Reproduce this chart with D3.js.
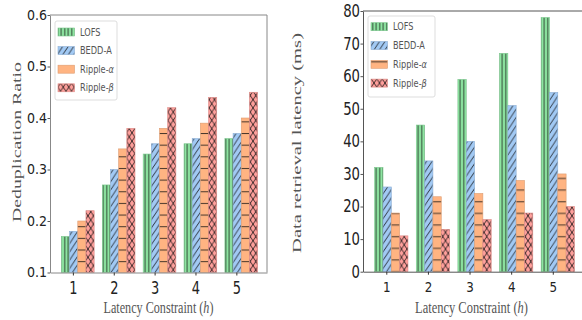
<!DOCTYPE html>
<html>
<head>
<meta charset="utf-8">
<script src="https://cdn.jsdelivr.net/npm/d3@7"></script>
<style>
  body { margin: 0; background: #fff; }
  svg { display: block; }
  .tick text { fill: #222; font-family: "DejaVu Sans", sans-serif; }
  .axis-label { font-family: "Liberation Serif", "Times New Roman", serif; fill: #555; }
  .legend text { font-family: "DejaVu Sans", sans-serif; fill: #555; font-size: 10px; }
</style>
</head>
<body>
<div id="chart"></div>
<script>
// categories
const groups = [1, 2, 3, 4, 5];
const seriesNames = ["LOFS", "BEDD-A", "Ripple-α", "Ripple-β"];
const seriesColours = ["#8de5a1", "#a1c9f4", "#ffb482", "#ff9f9b"];
const seriesHatch = ["vert", "diag", "horiz", "cross"];

// left panel: deduplication ratio
const dedupLOFS = [0.17, 0.27, 0.33, 0.35, 0.36];
const dedupBEDD = [0.18, 0.30, 0.35, 0.36, 0.37];
const dedupRippleA = [0.20, 0.34, 0.38, 0.39, 0.40];
const dedupRippleB = [0.22, 0.38, 0.42, 0.44, 0.45];
const dedupTicks = [0.1, 0.2, 0.3, 0.4, 0.5, 0.6];

// right panel: data retrieval latency (ms)
const latLOFS = [32, 45, 59, 67, 78];
const latBEDD = [26, 34, 40, 51, 55];
const latRippleA = [18, 23, 24, 28, 30];
const latRippleB = [11, 13, 16, 18, 20];
const latTicks = [0, 10, 20, 30, 40, 50, 60, 70, 80];

const svg = d3.select("#chart").append("svg")
  .attr("width", 582).attr("height", 320);
const defs = svg.append("defs");

// hatch patterns, similar to matplotlib's | / - x
function addHatch(id, kind, colour, offY) {
  let w, h, d;
  if (kind === "vert") { w = 3.5; h = 10; d = "M1.7,0V10"; }
  if (kind === "horiz") { w = 10; h = 11.65; d = `M0,${offY}H10`; }
  if (kind === "diag" || kind === "cross") {
    w = 5.5; h = 8.3;
    d = [0, 1, 2].map(k => `M${(k - 1) * w},${h}L${k * w},0`).join("");
    if (kind === "cross") {
      d += [-1, 0, 1].map(k => `M${k * w},0L${(k + 1) * w},${h}`).join("");
    }
  }
  const p = defs.append("pattern").attr("id", id)
    .attr("patternUnits", "userSpaceOnUse")
    .attr("width", w).attr("height", h);
  p.append("rect").attr("width", w).attr("height", h).attr("fill", colour);
  p.append("path").attr("d", d).attr("fill", "none")
    .attr("stroke", "#111").attr("stroke-width", 0.8);
}

// squeeze a text horizontally (in its own frame) to a target length
function fitText(sel, x, y, target, rotate) {
  const len = sel.node().getComputedTextLength();
  const s = target / len;
  const rot = rotate ? " rotate(-90)" : "";
  sel.attr("transform", `translate(${x},${y})${rot} scale(${s},1)`);
}

class GroupedBarChart {
  constructor(_config, _series) {
    this.config = _config;
    this.series = _series;
    this.initVis();
  }

  initVis() {
    let vis = this;
    const c = vis.config;

    seriesHatch.forEach((kind, i) =>
      addHatch(`${c.id}-h${i}`, kind, seriesColours[i], c.hatchOffset));

    vis.xScale = d3.scaleLinear().domain([0.44, 5.75]).range([c.left, c.right]);
    vis.yScale = d3.scaleLinear().domain(c.yDomain).range([c.bottom, c.top]);

    vis.g = svg.append("g");

    // frame
    vis.g.append("path")
      .attr("d", c.frame)
      .attr("fill", "none")
      .attr("stroke", c.frameColour)
      .attr("stroke-width", 1);

    vis.renderVis();
  }

  renderVis() {
    let vis = this;
    const c = vis.config;
    const bw = vis.xScale(0.2) - vis.xScale(0);

    const flat = [];
    vis.series.forEach((vals, k) => {
      vals.forEach((v, i) => flat.push({ k, group: groups[i], value: v }));
    });

    vis.g.append("g").selectAll("rect")
      .data(flat)
      .join("rect")
      .attr("x", d => vis.xScale(d.group - 0.28 + 0.2 * d.k))
      .attr("y", d => vis.yScale(d.value))
      .attr("width", bw)
      .attr("height", d => vis.yScale(c.yDomain[0]) - vis.yScale(d.value))
      .attr("fill", d => `url(#${c.id}-h${d.k})`)
      .attr("stroke", d => d3.color(seriesColours[d.k]).darker(0.4))
      .attr("stroke-width", 0.6);

    // axes
    const yAxis = d3.axisLeft(vis.yScale)
      .tickValues(c.yTicks).tickFormat(c.yFormat)
      .tickSize(2.5).tickPadding(0.5).tickSizeOuter(0);
    const yAxisG = vis.g.append("g")
      .attr("transform", `translate(${c.left},0)`)
      .call(yAxis);
    yAxisG.select(".domain").attr("stroke", c.frameColour);
    yAxisG.selectAll(".tick line").attr("stroke", "#555");
    yAxisG.selectAll(".tick text")
      .attr("font-size", c.yFont)
      .attr("transform", `scale(${c.yScaleX},1)`)
      .attr("x", -3 / c.yScaleX);

    const xAxis = d3.axisBottom(vis.xScale)
      .tickValues(groups).tickFormat(d3.format("d"))
      .tickSize(3).tickPadding(c.xPad).tickSizeOuter(0);
    const xAxisG = vis.g.append("g")
      .attr("transform", `translate(0,${c.bottom})`)
      .call(xAxis);
    xAxisG.select(".domain").attr("stroke", c.frameColour);
    xAxisG.selectAll(".tick line").attr("stroke", "#333");
    xAxisG.selectAll(".tick text")
      .attr("font-size", c.xFont)
      .attr("transform", `scale(${c.xScaleX},1)`);

    // axis labels
    const xl = vis.g.append("text")
      .attr("class", "axis-label")
      .attr("text-anchor", "middle")
      .attr("font-size", 17);
    xl.append("tspan").text("Latency Constraint (");
    xl.append("tspan").attr("font-style", "italic").text("h");
    xl.append("tspan").text(")");
    fitText(xl, (c.left + c.xLabelRight) / 2, 313, c.xLabelLen, false);

    const yl = vis.g.append("text")
      .attr("class", "axis-label")
      .attr("text-anchor", "middle")
      .attr("font-size", 16)
      .text(c.yLabel);
    fitText(yl, c.yLabelX, c.yLabelY, c.yLabelLen, true);
    // rotated: scale acts along the text, so undo and squash glyph height instead
    const ylLen = yl.node().getComputedTextLength();
    yl.attr("font-size", 16 * c.yLabelLen / ylLen)
      .attr("transform", `translate(${c.yLabelX},${c.yLabelY}) rotate(-90) scale(1,${c.yLabelSquash})`);

    // legend
    const lg = vis.g.append("g").attr("class", "legend");
    lg.append("rect")
      .attr("x", c.legend.x).attr("y", c.legend.y)
      .attr("width", c.legend.w).attr("height", c.legend.h)
      .attr("rx", 2)
      .attr("fill", "#fff").attr("stroke", "#ddd");
    seriesNames.forEach((name, k) => {
      const cy = c.legend.first + k * c.legend.step;
      lg.append("rect")
        .attr("x", c.legend.x + 3).attr("y", cy - 4)
        .attr("width", 16.5).attr("height", 8)
        .attr("fill", `url(#${c.id}-h${k})`)
        .attr("stroke", d3.color(seriesColours[k]).darker(0.4))
        .attr("stroke-width", 0.6);
      const t = lg.append("text")
        .attr("transform", `translate(${c.legend.x + 25},${cy + 3.5}) scale(0.82,1)`);
      if (name.startsWith("Ripple")) {
        t.append("tspan").text("Ripple-");
        t.append("tspan").attr("font-style", "italic").text(name.slice(-1));
      } else {
        t.text(name);
      }
    });
  }
}

new GroupedBarChart({
  id: "dedup",
  left: 50, right: 267, top: 15, bottom: 272.5,
  yDomain: [0.1, 0.6], yTicks: dedupTicks, yFormat: d3.format(".1f"),
  yFont: 14, yScaleX: 0.9,
  xFont: 18, xScaleX: 0.72, xPad: 5.3,
  frame: "M50,15H267V272.5",
  frameColour: "#888",
  hatchOffset: 5.4,
  xLabelRight: 267, xLabelLen: 110,
  yLabel: "Deduplication Ratio", yLabelX: 20.5, yLabelY: 142, yLabelLen: 160, yLabelSquash: 0.65,
  legend: { x: 55, y: 21, w: 62, h: 79, first: 32, step: 18.6 }
}, [dedupLOFS, dedupBEDD, dedupRippleA, dedupRippleB]);

new GroupedBarChart({
  id: "lat",
  left: 363, right: 584, top: 11, bottom: 271.7,
  yDomain: [0, 80], yTicks: latTicks, yFormat: d3.format("d"),
  yFont: 17, yScaleX: 0.78,
  xFont: 14, xScaleX: 0.85, xPad: 7.3,
  frame: "M363,11H584",
  frameColour: "#555",
  hatchOffset: 3.7,
  xLabelRight: 580, xLabelLen: 113,
  yLabel: "Data retrieval latency (ms)", yLabelX: 300.5, yLabelY: 143, yLabelLen: 220, yLabelSquash: 0.6,
  legend: { x: 368, y: 16, w: 67, h: 81, first: 26.7, step: 18.8 }
}, [latLOFS, latBEDD, latRippleA, latRippleB]);
</script>
</body>
</html>
